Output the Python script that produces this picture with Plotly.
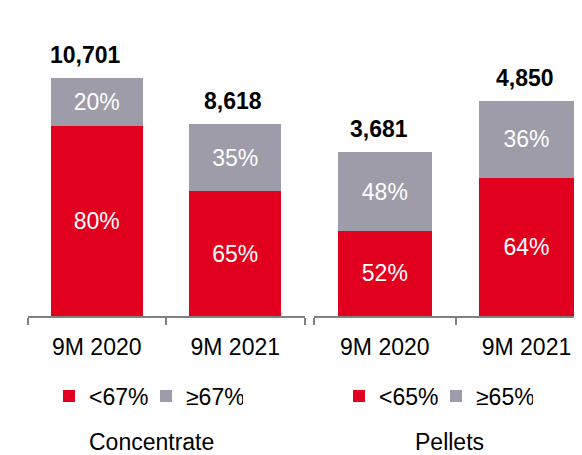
import plotly.graph_objects as go

# Data
periods = ["9M 2020", "9M 2021"]
conc_totals = [10701, 8618]
conc_low_share = [80, 65]     # <67%
conc_high_share = [20, 35]    # >=67%
pell_totals = [3681, 4850]
pell_low_share = [52, 64]     # <65%
pell_high_share = [48, 36]    # >=65%

RED = "#E1001E"
GREY = "#9E9CA9"
AXIS = "#808080"
FONT = "Liberation Sans, Arial, sans-serif"

# page has an 8px body margin, so the figure is 8px smaller than the window
W, H = 574, 447
BASE = 308.5  # axis baseline in px (figure coords)

# total labels in the original sit a little left of the bar centre
conc_label_shift = [-11, -2]
pell_label_shift = [-6, -1]


def part(totals, shares):
    return [t * s / 100 for t, s in zip(totals, shares)]


fig = go.Figure()

groups = [
    ("x", "y", "legend", conc_totals, conc_low_share, conc_high_share, "<67%", "≥67%", conc_label_shift),
    ("x2", "y2", "legend2", pell_totals, pell_low_share, pell_high_share, "<65%", "≥65%", pell_label_shift),
]

for xa, ya, lg, totals, low, high, low_name, high_name, shifts in groups:
    for shares, name, color in [(low, low_name, RED), (high, high_name, GREY)]:
        fig.add_trace(go.Bar(
            x=periods, y=part(totals, shares), name=name,
            marker_color=color, marker_line_width=0,
            text=[f"{s}%" for s in shares], textposition="inside",
            insidetextanchor="middle", textangle=0, constraintext="none",
            textfont=dict(color="white", size=23, family=FONT),
            width=0.665, xaxis=xa, yaxis=ya, legend=lg, hoverinfo="skip",
        ))
    for p, t, dx in zip(periods, totals, shifts):
        fig.add_annotation(
            x=p, y=t, xref=xa, yref=ya, text=f"<b>{t:,}</b>",
            showarrow=False, yanchor="middle", yshift=23, xshift=dx,
            font=dict(size=23, color="black", family=FONT),
        )

axis_common = dict(
    type="category", showline=True, linecolor=AXIS, linewidth=2,
    ticks="outside", tickson="boundaries", ticklen=7, tickcolor=AXIS, tickwidth=2,
    ticklabelstandoff=9, automargin=False,
    showgrid=False, zeroline=False, fixedrange=True,
    tickfont=dict(size=23, color="black", family=FONT),
)

legend_common = dict(
    orientation="h", xref="container", yref="container", xanchor="left",
    yanchor="middle", y=(H - 388) / H, traceorder="normal", entrywidth=52,
    font=dict(size=23, color="black", family=FONT), bgcolor="rgba(0,0,0,0)",
)

fig.update_layout(
    width=W, height=H,
    margin=dict(l=0, r=0, t=0, b=H - BASE, autoexpand=False),
    paper_bgcolor="white", plot_bgcolor="white",
    barmode="stack", font=dict(family=FONT),
    xaxis=dict(axis_common, domain=[19.5 / W, 296.5 / W], range=[-0.5, 1.5], anchor="y"),
    xaxis2=dict(axis_common, domain=[306 / W, 1.0], range=[-0.5, 1.392], anchor="y2"),
    yaxis=dict(visible=False, range=[0, BASE / (238.5 / 10701)], anchor="x"),
    yaxis2=dict(visible=False, range=[0, BASE / (215.8 / 4850)], anchor="x2"),
    legend=dict(legend_common, x=41 / W),
    legend2=dict(legend_common, x=331 / W),
)

for label, px in [("Concentrate", 143), ("Pellets", 441)]:
    fig.add_annotation(x=px / W, y=(BASE - 435) / BASE, xref="paper", yref="paper",
                       xanchor="center", yanchor="middle", text=label, showarrow=False,
                       font=dict(size=23, color="black", family=FONT))

fig.write_html("out.html")
